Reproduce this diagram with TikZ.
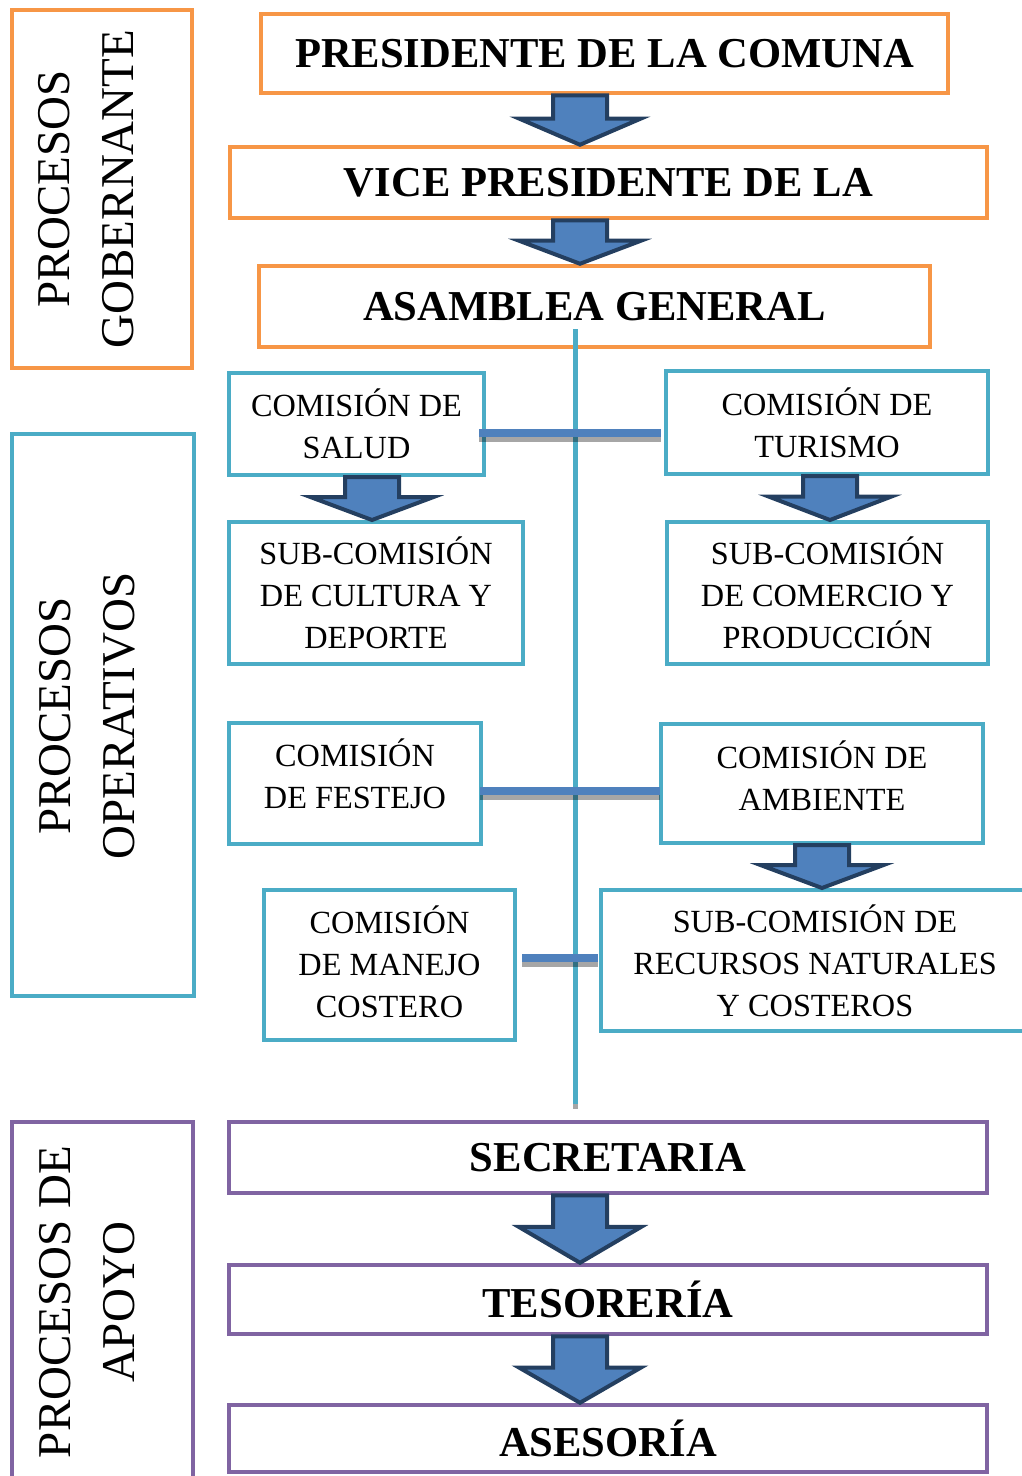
\documentclass[tikz,border=0pt]{standalone}
\usepackage{fontspec}
\setmainfont{Liberation Serif}
\usetikzlibrary{calc}
\definecolor{orC}{HTML}{F79646}
\definecolor{tlC}{HTML}{4BACC6}
\definecolor{puC}{HTML}{8064A2}
\definecolor{blC}{HTML}{4F81BD}
\definecolor{dkC}{HTML}{243F60}
\newcommand\bigfont{\fontsize{42.6}{50}\selectfont\bfseries}
\newcommand\midfont{\fontsize{32.3}{42}\selectfont}
\newcommand\labfont{\fontsize{47}{64}\selectfont}
\newcommand\blockarr[3]{%
  \draw[barrow] let \p1=(#2.south), \p2=(#3.north), \p3=(#1,0),
    \n1={\y1-(\y1-\y2)*0.47} in
    (\x3-27pt,\y1) -- (\x3+27pt,\y1) -- (\x3+27pt,\n1) -- (\x3+61pt,\n1)
    -- (\x3,\y2) -- (\x3-61pt,\n1) -- (\x3-27pt,\n1) -- cycle;}
\newcommand\hconn[5]{%
  \draw[shadowline] ($(#1.east |- #3)+(#4,5)$) -- ($(#2.west |- #3)+(#5,5)$);
  \draw[conn] ($(#1.east |- #3)+(#4,0)$) -- ($(#2.west |- #3)+(#5,0)$);}
\begin{document}
\begin{tikzpicture}[x=1pt,y=-1pt,
  govbox/.style={draw=orC, line width=4.5pt, inner sep=0pt},
  opbox/.style={draw=tlC, line width=4pt, inner sep=0pt, align=center, font=\midfont},
  inlab/.style={align=center, font=\midfont, inner sep=0pt},
  apbox/.style={draw=puC, line width=4.5pt, inner sep=0pt},
  title/.style={font=\bigfont},
  labtext/.style={rotate=90, align=center, font=\labfont, inner sep=0pt},
  barrow/.style={fill=blC, draw=dkC, line width=4pt, line join=miter},
  conn/.style={draw=blC, line width=8pt},
  shadowline/.style={draw=black, opacity=0.35, line width=8pt},
  vline/.style={draw=tlC, line width=5pt}]
\useasboundingbox (0,0) rectangle (1021,1476);

% --- side labels ---
\node[govbox, minimum width=180pt, minimum height=358pt] (govlab) at (102,189) {};
\node[labtext] (govtxt) at (86,189) {PROCESOS\\GOBERNANTE};
\node[opbox, minimum width=182pt, minimum height=562pt] (oplab) at (103,715) {};
\node[labtext] (optxt) at (87,716) {PROCESOS\\OPERATIVOS};
\node[apbox, minimum width=181pt, minimum height=360pt] (aplab) at (102.5,1302) {};
\node[labtext] (aptxt) at (87,1302) {PROCESOS DE\\APOYO};

% --- governing ---
\node[govbox, title, minimum width=687pt, minimum height=79pt] (pres) at (604.5,53.5) {PRESIDENTE DE LA COMUNA};
\node[govbox, title, minimum width=757pt, minimum height=71pt] (vice) at (608.5,182.5) {VICE PRESIDENTE DE LA};
\node[govbox, title, minimum width=671pt, minimum height=81pt] (asam) at (594.5,306.5) {ASAMBLEA GENERAL};

% --- operative ---
\node[opbox, minimum width=255pt, minimum height=102pt] (salud) at (356.5,424) {COMISIÓN DE\\SALUD};
\node[opbox, minimum width=322pt, minimum height=103pt] (turismo) at (827,422.5) {COMISIÓN DE\\TURISMO};
\node[opbox, minimum width=294pt, minimum height=142pt] (cultura) at (376,593) {SUB-COMISIÓN\\DE CULTURA Y\\DEPORTE};
\node[opbox, minimum width=321pt, minimum height=142pt] (comercio) at (827.5,593) {SUB-COMISIÓN\\DE COMERCIO Y\\PRODUCCIÓN};
\node[opbox, minimum width=252pt, minimum height=121pt,
  label={[inlab, yshift=10pt]center:COMISIÓN\\DE FESTEJO}] (festejo) at (355,783.5) {};
\node[opbox, minimum width=322pt, minimum height=119pt,
  label={[inlab, yshift=8pt]center:COMISIÓN DE\\AMBIENTE}] (ambiente) at (822,783.5) {};
\node[opbox, minimum width=251pt, minimum height=150pt,
  label={[inlab, yshift=3pt]center:COMISIÓN\\DE MANEJO\\COSTERO}] (manejo) at (389.5,965) {};
\node[opbox, minimum width=428pt, minimum height=141pt] (recursos) at (815,960.5) {SUB-COMISIÓN DE\\RECURSOS NATURALES\\Y COSTEROS};

% --- support ---
\node[apbox, title, minimum width=758pt, minimum height=71pt] (secre) at (608,1157.5) {SECRETARIA};
\node[apbox, title, minimum width=758pt, minimum height=69pt] (teso) at (608,1299.5) {TESORERÍA};
\node[apbox, title, minimum width=758pt, minimum height=67pt] (ases) at (608,1438.5) {ASESORÍA};

% --- vertical trunk ---
\coordinate (vtop) at (575.5,329);
\coordinate (vbot) at (575.5,1104);
\draw[shadowline, line width=5pt] ($(vtop)+(0,5)$) -- ($(vbot)+(0,5)$);
\draw[vline] (vtop) -- (vbot);

% --- horizontal connectors ---
\coordinate (h1) at (0,433);
\coordinate (h2) at (0,791);
\coordinate (h3) at (0,957.5);
\hconn{salud}{turismo}{h1}{-7}{-3}
\hconn{festejo}{ambiente}{h2}{-3}{1}
\hconn{manejo}{recursos}{h3}{5}{-1}

% --- block arrows ---
\blockarr{580}{pres}{vice}
\blockarr{580}{vice}{asam}
\blockarr{372}{salud}{cultura}
\blockarr{830}{turismo}{comercio}
\blockarr{822}{ambiente}{recursos}
\blockarr{580}{secre}{teso}
\blockarr{580}{teso}{ases}
\end{tikzpicture}
\end{document}
